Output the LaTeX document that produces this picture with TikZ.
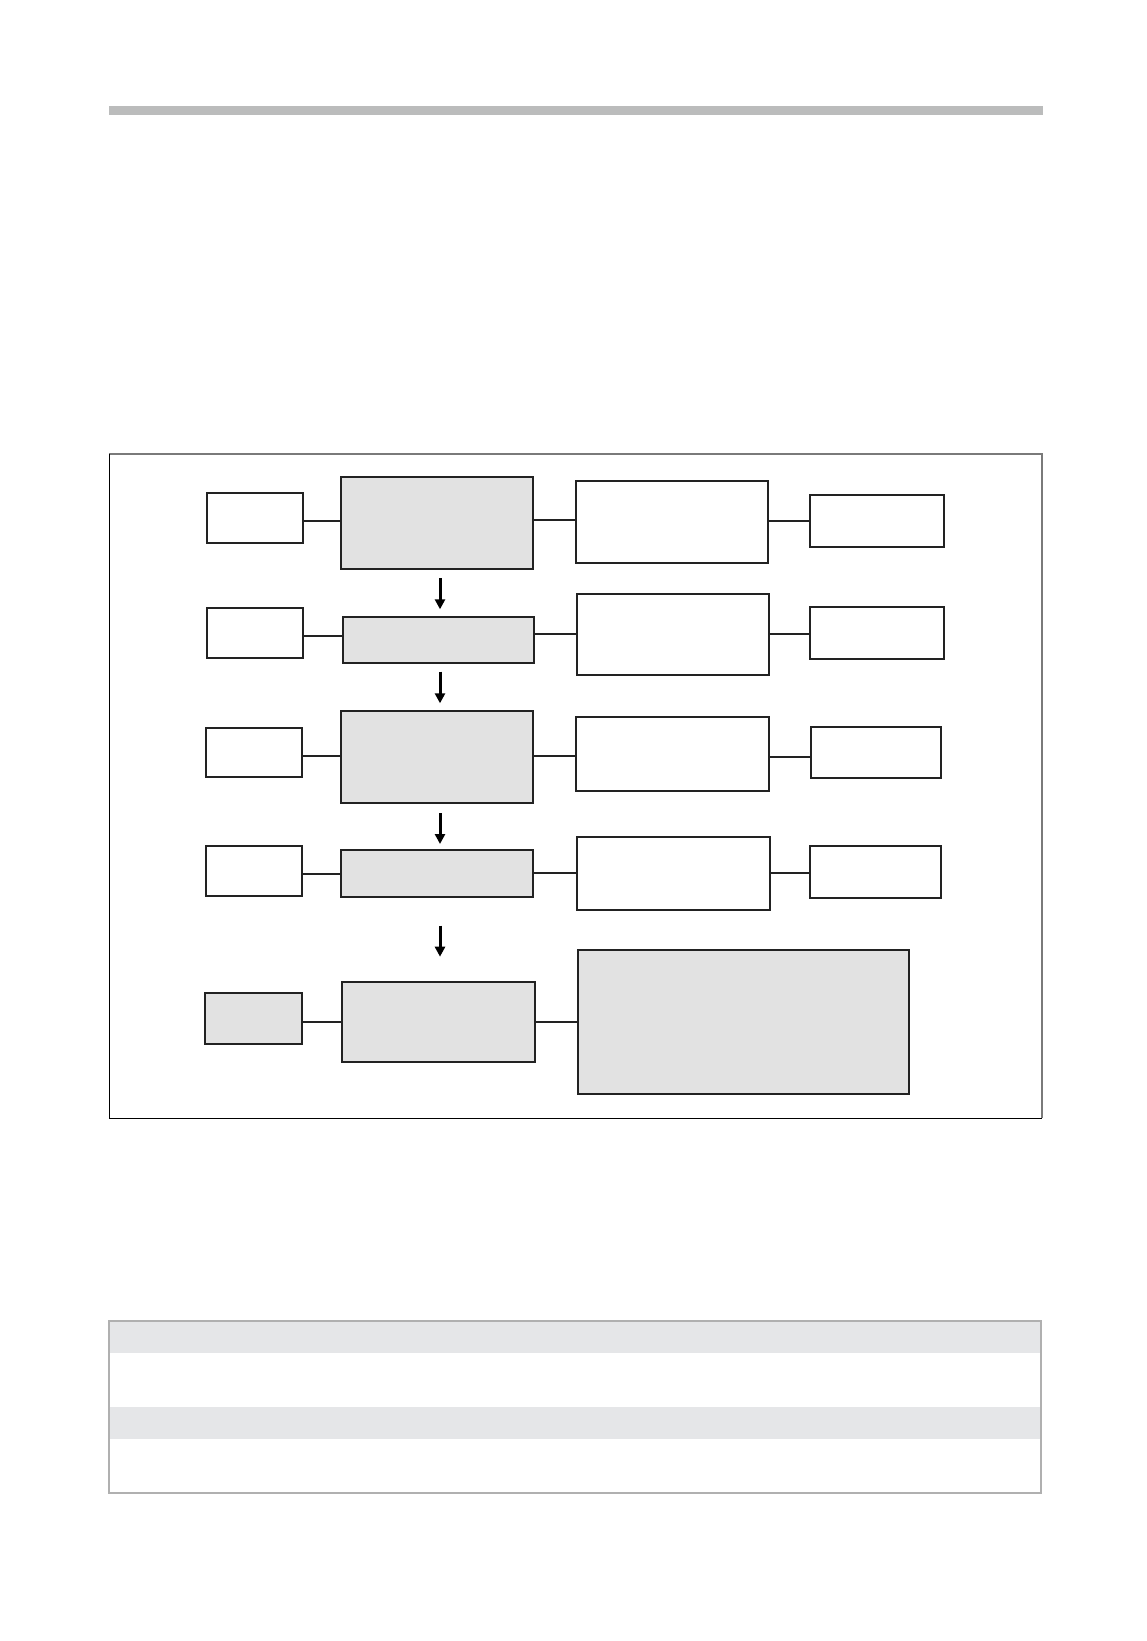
\documentclass[tikz,border=0pt]{standalone}
\usetikzlibrary{arrows.meta,calc}
\definecolor{boxfill}{HTML}{E2E2E2}
\definecolor{ink}{HTML}{222222}
\definecolor{barcol}{HTML}{BBBCBC}
\definecolor{frametop}{HTML}{7A7A7A}
\definecolor{rowfill}{HTML}{E5E6E8}
\definecolor{tabline}{HTML}{B0B0B0}
\newcommand\mybox[6]{\node[#6, minimum width={(#4-#2)*0.5pt}, minimum height={(#5-#3)*0.5pt}] (#1) at ({(#2+#4)/2},{(#3+#5)/2}) {};}
\tikzset{
  wbox/.style={draw=ink, line width=1pt, fill=white, inner sep=0pt, outer sep=0pt},
  gbox/.style={wbox, fill=boxfill},
  link/.style={draw=ink, line width=0.95pt},
  arr/.style={draw=black, line width=1.5pt, -{Triangle[length=5pt,width=5pt]}}
}
\begin{document}
\begin{tikzpicture}[x=0.5pt,y=-0.5pt]
\useasboundingbox (0,0) rectangle (1146,1641);
% top bar
\fill[barcol] (109,106.4) rectangle (1043,114.8);
% frame
\draw[frametop, line width=0.8pt] (109.3,454) -- (1041.7,454) -- (1041.7,1118.3);
\draw[black, line width=0.8pt] (109.3,454) -- (109.3,1118.3) -- (1041.7,1118.3);
% row 1
\mybox{L1}{206.7}{492.7}{302.7}{542.7}{wbox}
\mybox{G1}{341.3}{477.3}{533.3}{569.3}{gbox}
\mybox{R1}{576}{481.3}{768.3}{563.3}{wbox}
\mybox{F1}{809.7}{495.3}{944.3}{547.3}{wbox}
% row 2
\mybox{L2}{206.7}{607.7}{302.7}{657.7}{wbox}
\mybox{G2}{343.3}{617.3}{534}{662.7}{gbox}
\mybox{R2}{577.3}{593.7}{769.3}{675.3}{wbox}
\mybox{F2}{809.7}{607.3}{944.3}{659.3}{wbox}
% row 3
\mybox{L3}{206}{727.7}{301.7}{777.3}{wbox}
\mybox{G3}{341.3}{710.7}{533.3}{802.7}{gbox}
\mybox{R3}{576}{717}{768.7}{791.3}{wbox}
\mybox{F3}{810.7}{727.3}{941}{777.7}{wbox}
% row 4
\mybox{L4}{206}{846}{301.7}{896}{wbox}
\mybox{G4}{341.3}{850.3}{533.3}{897.3}{gbox}
\mybox{R4}{577.3}{836.7}{770}{910.3}{wbox}
\mybox{F4}{810}{846.3}{940.7}{897.7}{wbox}
% row 5
\mybox{L5}{205.3}{993.3}{302.3}{1044.3}{gbox}
\mybox{G5}{342.3}{982}{535.3}{1062.3}{gbox}
\mybox{R5}{578.3}{950}{909}{1094.3}{gbox}
% connectors
\draw[link] (L1.east |- 0,521) -- (G1.west |- 0,521);
\draw[link] (G1.east |- 0,520) -- (R1.west |- 0,520);
\draw[link] (R1.east |- 0,521) -- (F1.west |- 0,521);
\draw[link] (L2.east |- 0,636) -- (G2.west |- 0,636);
\draw[link] (G2.east |- 0,634.3) -- (R2.west |- 0,634.3);
\draw[link] (R2.east |- 0,634.3) -- (F2.west |- 0,634.3);
\draw[link] (L3.east |- 0,756) -- (G3.west |- 0,756);
\draw[link] (G3.east |- 0,756) -- (R3.west |- 0,756);
\draw[link] (R3.east |- 0,757) -- (F3.west |- 0,757);
\draw[link] (L4.east |- 0,873.7) -- (G4.west |- 0,873.7);
\draw[link] (G4.east |- 0,872.7) -- (R4.west |- 0,872.7);
\draw[link] (R4.east |- 0,873.3) -- (F4.west |- 0,873.3);
\draw[link] (L5.east |- 0,1022.3) -- (G5.west |- 0,1022.3);
\draw[link] (G5.east |- 0,1022) -- (R5.west |- 0,1022);
% arrows
\draw[arr] ($(G1.south -| 440,0)+(0,8.7)$) -- ($(G2.north -| 440,0)+(0,-8)$);
\draw[arr] ($(G2.south -| 440,0)+(0,9)$) -- ($(G3.north -| 440,0)+(0,-7.4)$);
\draw[arr] ($(G3.south -| 440,0)+(0,10.6)$) -- ($(G4.north -| 440,0)+(0,-6.3)$);
\draw[arr] ($(G4.south -| 440,0)+(0,28.4)$) -- ($(G5.north -| 440,0)+(0,-25.3)$);
% table
\fill[rowfill] (109.3,1321) rectangle (1040.7,1352.7);
\fill[rowfill] (109.3,1407.3) rectangle (1040.7,1439);
\draw[tabline, line width=1pt] (109.3,1321) rectangle (1040.7,1493.3);
\end{tikzpicture}
\end{document}
